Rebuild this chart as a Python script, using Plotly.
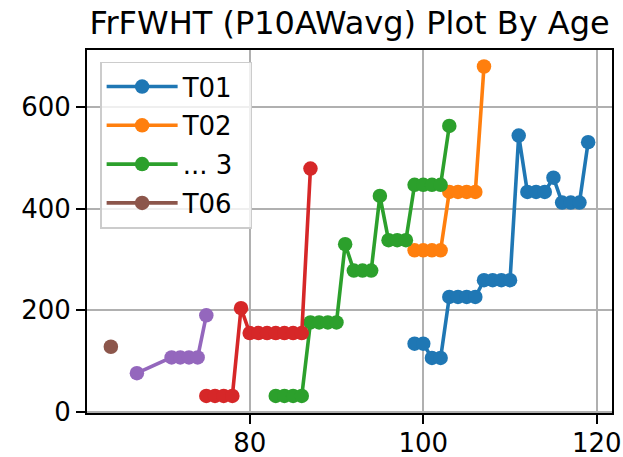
import plotly.graph_objects as go

# ---- data ----
t01_age = [99, 100, 101, 102, 103, 104, 105, 106, 107, 108, 109, 110, 111, 112, 113, 114, 115, 116, 117, 118, 119]
t01_val = [134, 134, 106, 106, 226, 226, 226, 226, 259, 259, 259, 259, 544, 433, 433, 433, 461, 412, 412, 412, 531]

t02_age = [99, 100, 101, 102, 103, 104, 105, 106, 107]
t02_val = [318, 318, 318, 318, 433, 433, 433, 433, 680]

s3_age = [83, 84, 85, 86, 87, 88, 89, 90, 91, 92, 93, 94, 95, 96, 97, 98, 99, 100, 101, 102, 103]
s3_val = [31, 31, 31, 31, 176, 176, 176, 176, 330, 278, 278, 278, 425, 338, 338, 338, 447, 447, 447, 447, 563]

s4_age = [75, 76, 77, 78, 79, 80, 81, 82, 83, 84, 85, 86, 87]
s4_val = [31, 31, 31, 31, 204, 155, 155, 155, 155, 155, 155, 155, 479]

s5_age = [67, 71, 72, 73, 74, 75]
s5_val = [76, 107, 107, 107, 107, 190]

t06_age = [64]
t06_val = [128]

names = ["T01", "T02", "... 3\u2002", "", "", "T06"]
colors = ["#1f77b4", "#ff7f0e", "#2ca02c", "#d62728", "#9467bd", "#8c564b"]
in_legend = [True, True, True, False, False, True]

x_ticks = [80, 100, 120]
y_ticks = [0, 200, 400, 600]

series = [(t01_age, t01_val), (t02_age, t02_val), (s3_age, s3_val),
          (s4_age, s4_val), (s5_age, s5_val), (t06_age, t06_val)]

fig = go.Figure()
for i, ((xs, ys), nm, c, leg) in enumerate(zip(series, names, colors, in_legend)):
    fig.add_trace(go.Scatter(
        x=xs, y=ys, mode="lines+markers", name=nm,
        line=dict(color=c, width=3.6),
        marker=dict(color=c, size=14.5),
        showlegend=leg, legendgroup="g%d" % i,
    ))

font = "DejaVu Sans"
W, H = 623, 457
fig.update_layout(
    width=W, height=H,
    margin=dict(l=87, r=11, t=50, b=44, autoexpand=False),
    paper_bgcolor="white", plot_bgcolor="white",
    font=dict(family=font, size=26, color="black"),
    title=dict(text="FrFWHT (P10AWavg) Plot By Age", font=dict(family=font, size=32, color="black"),
               x=0.5, xref="paper", xanchor="center", y=1 - 23 / H, yref="container", yanchor="middle"),
    legend=dict(x=0.025, y=0.968, xanchor="left", yanchor="top",
                bgcolor="rgba(255,255,255,0.8)", bordercolor="#cccccc", borderwidth=1.5,
                font=dict(family=font, size=26, color="black"),
                tracegroupgap=2, itemwidth=71, itemsizing="trace"),
)
axis_common = dict(showgrid=True, gridcolor="#b0b0b0", gridwidth=1.9,
                   showline=True, linecolor="black", linewidth=1.9, mirror=True,
                   ticks="outside", ticklen=9, tickwidth=1.9, tickcolor="black",
                   zeroline=False, automargin=False,
                   tickfont=dict(family=font, size=26, color="black"))
fig.update_xaxes(range=[61.25, 121.75], tickvals=x_ticks, ticklabelstandoff=-3, **axis_common)
fig.update_yaxes(range=[-2.5, 712.5], tickvals=y_ticks, **axis_common)

# remove the browser's default 8px body margin so the figure fills the window
fig.write_html("out.html", config=dict(displayModeBar=False),
               post_script="document.body.style.margin='0';")
